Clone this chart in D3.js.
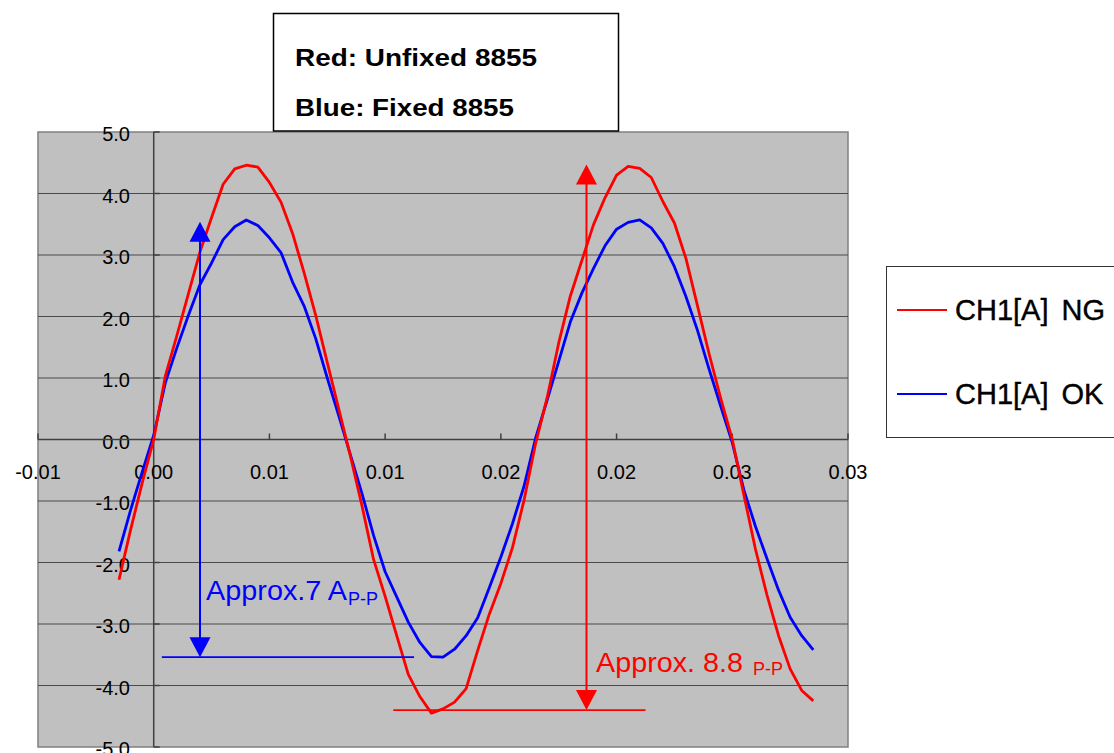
<!DOCTYPE html>
<html>
<head>
<meta charset="utf-8">
<script src="https://cdn.jsdelivr.net/npm/d3@7"></script>
<style>
  html, body { margin: 0; padding: 0; background: #fff; }
  svg { display: block; font-family: "Liberation Sans", Arial, sans-serif; }
</style>
</head>
<body>
<svg id="chart" width="1114" height="753"></svg>
<script>
// time axis (s), one sample every 0.5 ms
var timeSec = [-0.0015, -0.001, -0.0005, 0, 0.0005, 0.001, 0.0015, 0.002, 0.0025, 0.003,
  0.0035, 0.004, 0.0045, 0.005, 0.0055, 0.006, 0.0065, 0.007, 0.0075, 0.008,
  0.0085, 0.009, 0.0095, 0.01, 0.0105, 0.011, 0.0115, 0.012, 0.0125, 0.013,
  0.0135, 0.014, 0.0145, 0.015, 0.0155, 0.016, 0.0165, 0.017, 0.0175, 0.018,
  0.0185, 0.019, 0.0195, 0.02, 0.0205, 0.021, 0.0215, 0.022, 0.0225, 0.023,
  0.0235, 0.024, 0.0245, 0.025, 0.0255, 0.026, 0.0265, 0.027, 0.0275, 0.028, 0.0285];

// CH1[A] NG  (red, unfixed)
var ngValues = [-2.28, -1.47, -0.71, 0.00, 1.03, 1.69, 2.37, 3.05, 3.61, 4.15,
  4.40, 4.46, 4.43, 4.18, 3.86, 3.35, 2.71, 2.02, 1.25, 0.49,
  -0.27, -1.08, -1.95, -2.55, -3.19, -3.82, -4.18, -4.45, -4.38, -4.27,
  -4.05, -3.43, -2.84, -2.34, -1.76, -0.99, -0.07, 0.68, 1.57, 2.33,
  2.91, 3.49, 3.93, 4.30, 4.44, 4.41, 4.26, 3.87, 3.52, 2.94,
  2.17, 1.39, 0.67, 0.00, -0.90, -1.78, -2.53, -3.19, -3.73, -4.08, -4.25];

// CH1[A] OK  (blue, fixed)
var okValues = [-1.82, -1.15, -0.53, 0.07, 0.92, 1.49, 2.02, 2.52, 2.87, 3.25,
  3.46, 3.57, 3.48, 3.28, 3.04, 2.56, 2.17, 1.64, 1.00, 0.38,
  -0.25, -0.88, -1.56, -2.15, -2.56, -2.97, -3.30, -3.53, -3.54, -3.41,
  -3.19, -2.90, -2.41, -1.91, -1.37, -0.76, 0.02, 0.64, 1.27, 1.91,
  2.38, 2.78, 3.15, 3.42, 3.53, 3.57, 3.44, 3.19, 2.81, 2.32,
  1.77, 1.14, 0.54, -0.05, -0.82, -1.41, -1.94, -2.45, -2.89, -3.19, -3.42];

var xTicks = [-0.005, 0, 0.005, 0.01, 0.015, 0.02, 0.025, 0.03];
var xTickLabels = ["-0.01", "0.00", "0.01", "0.01", "0.02", "0.02", "0.03", "0.03"];
var yTicks = [-5, -4, -3, -2, -1, 0, 1, 2, 3, 4, 5];
var yTickLabels = ["-5.0", "-4.0", "-3.0", "-2.0", "-1.0", "0.0", "1.0", "2.0", "3.0", "4.0", "5.0"];

var seriesNames = ["CH1[A] NG", "CH1[A] OK"];
var seriesColors = ["#ff0000", "#0000ff"];
var titleLines = ["Red: Unfixed 8855", "Blue: Fixed 8855"];

// peak-to-peak markers: [top, bottom] levels and where the arrow sits
var okPeakPeak = [3.54, -3.54], okArrowT = 0.002, okBaseT = [0.00035, 0.01125];
var ngPeakPeak = [4.47, -4.40], ngArrowT = 0.0187, ngBaseT = [0.01035, 0.02125];

var svg = d3.select("#chart");

var x = d3.scaleLinear().domain([-0.005, 0.03]).range([38, 848]);
var y = d3.scaleLinear().domain([-5, 5]).range([747, 132]);

// plot area
svg.append("rect")
    .attr("x", x(-0.005)).attr("y", y(5))
    .attr("width", x(0.03) - x(-0.005))
    .attr("height", y(-5) - y(5))
    .attr("fill", "#c0c0c0")
    .attr("stroke", "#808080")
    .attr("stroke-width", 1.5);

// horizontal grid
svg.append("g").selectAll("line")
    .data(yTicks.filter(function(d) { return d > -5 && d < 5; }))
    .enter().append("line")
      .attr("x1", x(-0.005)).attr("x2", x(0.03))
      .attr("y1", function(d) { return y(d); })
      .attr("y2", function(d) { return y(d); })
      .attr("stroke", "#4a4a4a")
      .attr("stroke-width", 1);

// y axis at t = 0
svg.append("line")
    .attr("x1", x(0)).attr("x2", x(0))
    .attr("y1", y(5)).attr("y2", y(-5))
    .attr("stroke", "#404040").attr("stroke-width", 1.5);

svg.append("g").selectAll("line")
    .data(yTicks)
    .enter().append("line")
      .attr("x1", x(0)).attr("x2", x(0) + 6)
      .attr("y1", function(d) { return y(d); })
      .attr("y2", function(d) { return y(d); })
      .attr("stroke", "#404040").attr("stroke-width", 1.5);

svg.append("g").selectAll("text")
    .data(yTicks)
    .enter().append("text")
      .attr("x", 130)
      .attr("y", function(d) { return y(d) + 9; })
      .attr("text-anchor", "end")
      .attr("font-size", 20)
      .attr("fill", "#000")
      .text(function(d, i) { return yTickLabels[i]; });

// x axis at 0 A
svg.append("line")
    .attr("x1", x(-0.005)).attr("x2", x(0.03))
    .attr("y1", y(0)).attr("y2", y(0))
    .attr("stroke", "#404040").attr("stroke-width", 1.5);

svg.append("g").selectAll("line")
    .data(xTicks)
    .enter().append("line")
      .attr("x1", function(d) { return x(d); })
      .attr("x2", function(d) { return x(d); })
      .attr("y1", y(0) - 6).attr("y2", y(0))
      .attr("stroke", "#404040").attr("stroke-width", 1.5);

svg.append("g").selectAll("text")
    .data(xTicks)
    .enter().append("text")
      .attr("x", function(d) { return x(d); })
      .attr("y", y(0) + 39.5)
      .attr("text-anchor", "middle")
      .attr("font-size", 20)
      .attr("fill", "#000")
      .text(function(d, i) { return xTickLabels[i]; });

// traces
var line = d3.line()
    .x(function(d) { return x(d[0]); })
    .y(function(d) { return y(d[1]); });

[okValues, ngValues].forEach(function(vals, j) {
  svg.append("path")
      .datum(timeSec.map(function(t, i) { return [t, vals[i]]; }))
      .attr("fill", "none")
      .attr("stroke", j == 0 ? seriesColors[1] : seriesColors[0])
      .attr("stroke-width", 2.8)
      .attr("stroke-linejoin", "round")
      .attr("d", line);
});

// peak-to-peak annotation helper
function ppMarker(pp, arrowT, baseT, color) {
  var ax = x(arrowT), top = y(pp[0]), bot = y(pp[1]);
  svg.append("line")
      .attr("x1", x(baseT[0])).attr("x2", x(baseT[1]))
      .attr("y1", bot).attr("y2", bot)
      .attr("stroke", color).attr("stroke-width", 1.8);
  svg.append("line")
      .attr("x1", ax).attr("x2", ax)
      .attr("y1", top + 10).attr("y2", bot - 10)
      .attr("stroke", color).attr("stroke-width", 2);
  svg.append("path")
      .attr("d", "M" + ax + "," + top + "L" + (ax - 10.5) + "," + (top + 20) + "L" + (ax + 10.5) + "," + (top + 20) + "Z")
      .attr("fill", color);
  svg.append("path")
      .attr("d", "M" + ax + "," + bot + "L" + (ax - 10.5) + "," + (bot - 20) + "L" + (ax + 10.5) + "," + (bot - 20) + "Z")
      .attr("fill", color);
}
ppMarker(okPeakPeak, okArrowT, okBaseT, seriesColors[1]);
ppMarker(ngPeakPeak, ngArrowT, ngBaseT, seriesColors[0]);

svg.append("text")
    .attr("x", 206).attr("y", 600)
    .attr("font-size", 28).attr("fill", seriesColors[1])
    .attr("textLength", 141).attr("lengthAdjust", "spacingAndGlyphs")
    .text("Approx.7 A");
svg.append("text")
    .attr("x", 348).attr("y", 605)
    .attr("font-size", 18).attr("fill", seriesColors[1])
    .text("P-P");

svg.append("text")
    .attr("x", 596).attr("y", 672)
    .attr("font-size", 28).attr("fill", seriesColors[0])
    .attr("textLength", 147).attr("lengthAdjust", "spacingAndGlyphs")
    .text("Approx. 8.8");
svg.append("text")
    .attr("x", 753).attr("y", 675)
    .attr("font-size", 18).attr("fill", seriesColors[0])
    .text("P-P");

// title box
svg.append("rect")
    .attr("x", 273.5).attr("y", 13.5)
    .attr("width", 345).attr("height", 117.5)
    .attr("fill", "#fff")
    .attr("stroke", "#000").attr("stroke-width", 1.5);

svg.append("g").selectAll("text")
    .data(titleLines)
    .enter().append("text")
      .attr("x", 295)
      .attr("y", function(d, i) { return 66 + i * 49.5; })
      .attr("font-size", 23)
      .attr("font-weight", "bold")
      .attr("textLength", function(d, i) { return i == 0 ? 242 : 219; })
      .attr("lengthAdjust", "spacingAndGlyphs")
      .text(function(d) { return d; });

// legend
svg.append("rect")
    .attr("x", 886.5).attr("y", 266.5)
    .attr("width", 260).attr("height", 171)
    .attr("fill", "#fff")
    .attr("stroke", "#333").attr("stroke-width", 1);

var leg = svg.append("g").selectAll("g")
    .data(seriesNames)
    .enter().append("g")
      .attr("transform", function(d, i) { return "translate(0," + (310 + i * 84) + ")"; });

leg.append("line")
    .attr("x1", 897).attr("x2", 947)
    .attr("stroke", function(d, i) { return seriesColors[i]; })
    .attr("stroke-width", 2);

leg.append("text")
    .attr("x", 955).attr("y", 10)
    .attr("font-size", 29)
    .attr("word-spacing", 5)
    .attr("stroke", "#000").attr("stroke-width", 0.4)
    .text(function(d) { return d; });
</script>
</body>
</html>
